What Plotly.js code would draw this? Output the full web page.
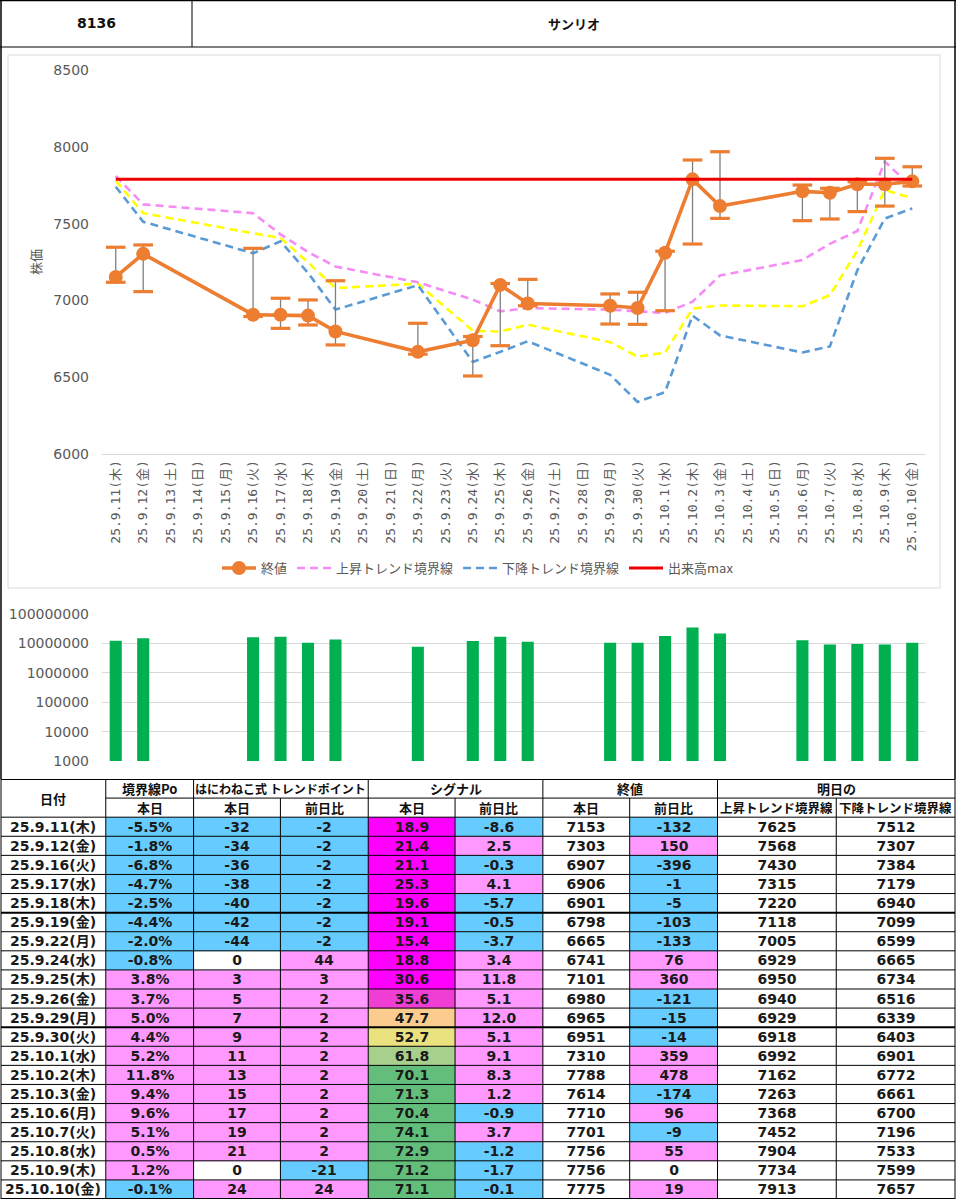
<!DOCTYPE html>
<html><head><meta charset="utf-8">
<script src="https://cdn.plot.ly/plotly-3.0.1.min.js"></script>
<style>html,body{margin:0;padding:0;background:#fff}#chart{width:956px;height:1199px}</style>
</head><body><div id="chart"></div>
<script>
// ---------- data ----------
const stockCode = '8136';
const stockName = 'サンリオ';

const axisDays = ['25.9.11(木)','25.9.12(金)','25.9.13(土)','25.9.14(日)','25.9.15(月)','25.9.16(火)','25.9.17(水)','25.9.18(木)','25.9.19(金)','25.9.20(土)','25.9.21(日)','25.9.22(月)','25.9.23(火)','25.9.24(水)','25.9.25(木)','25.9.26(金)','25.9.27(土)','25.9.28(日)','25.9.29(月)','25.9.30(火)','25.10.1(水)','25.10.2(木)','25.10.3(金)','25.10.4(土)','25.10.5(日)','25.10.6(月)','25.10.7(火)','25.10.8(水)','25.10.9(木)','25.10.10(金)'];

const tradeDays = ['25.9.11(木)','25.9.12(金)','25.9.16(火)','25.9.17(水)','25.9.18(木)','25.9.19(金)','25.9.22(月)','25.9.24(水)','25.9.25(木)','25.9.26(金)','25.9.29(月)','25.9.30(火)','25.10.1(水)','25.10.2(木)','25.10.3(金)','25.10.6(月)','25.10.7(火)','25.10.8(水)','25.10.9(木)','25.10.10(金)'];

const closeVals = [7153,7303,6907,6906,6901,6798,6665,6741,7101,6980,6965,6951,7310,7788,7614,7710,7701,7756,7756,7775];
const highVals  = [7346,7361,7339,7014,7003,7128,6851,6765,7110,7137,7042,7053,7320,7914,7968,7751,7730,7773,7925,7870];
const lowVals   = [7118,7057,6895,6818,6840,6710,6650,6508,6705,6965,6846,6844,6933,7367,7534,7519,7530,7578,7614,7745];
const upperLine = [7810,7625,7568,7430,7315,7220,7118,7005,6929,6950,6940,6929,6918,6992,7162,7263,7368,7452,7904,7734];
const lowerLine = [7740,7512,7307,7384,7179,6940,7099,6599,6665,6734,6516,6339,6403,6901,6772,6661,6700,7196,7533,7599];
const midLine   = [7779,7568,7437,7407,7247,7080,7109,6802,6797,6842,6728,6634,6660,6946,6967,6962,7034,7324,7718,7666];
const volMaxLine = [7788,7788,7788,7788,7788,7788,7788,7788,7788,7788,7788,7788,7788,7788,7788,7788,7788,7788,7788,7788];
const volumes = [12300000,15100000,16300000,16800000,10500000,13600000,7700000,12000000,16800000,11400000,10500000,10500000,17700000,34600000,21700000,12900000,9250000,9500000,9250000,10500000];
const volTickVals = [1000,10000,100000,1000000,10000000,100000000];
const volTickText = ['1000','10000','100000','1000000','10000000','100000000'];

// table
const poVals      = [-5.5,-1.8,-6.8,-4.7,-2.5,-4.4,-2.0,-0.8,3.8,3.7,5.0,4.4,5.2,11.8,9.4,9.6,5.1,0.5,1.2,-0.1];
const tpVals      = [-32,-34,-36,-38,-40,-42,-44,0,3,5,7,9,11,13,15,17,19,21,0,24];
const tpDiffVals  = [-2,-2,-2,-2,-2,-2,-2,44,3,2,2,2,2,2,2,2,2,2,-21,24];
const sigVals     = [18.9,21.4,21.1,25.3,19.6,19.1,15.4,18.8,30.6,35.6,47.7,52.7,61.8,70.1,71.3,70.4,74.1,72.9,71.2,71.1];
const sigDiffVals = [-8.6,2.5,-0.3,4.1,-5.7,-0.5,-3.7,3.4,11.8,5.1,12.0,5.1,9.1,8.3,1.2,-0.9,3.7,-1.2,-1.7,-0.1];
const closeDiffVals = [-132,150,-396,-1,-5,-103,-133,76,360,-121,-15,-14,359,478,-174,96,-9,55,0,19];
const upperNextVals = [7625,7568,7430,7315,7220,7118,7005,6929,6950,6940,6929,6918,6992,7162,7263,7368,7452,7904,7734,7913];
const lowerNextVals = [7512,7307,7384,7179,6940,7099,6599,6665,6734,6516,6339,6403,6901,6772,6661,6700,7196,7533,7599,7657];

const tableTopHeader = ['日付','境界線Po','はにわねこ式 トレンドポイント','シグナル','終値','明日の'];
const tableSubHeader = ['','本日','本日','前日比','本日','前日比','本日','前日比','上昇トレンド境界線','下降トレンド境界線'];
const legendNames = ['終値','上昇トレンド境界線','下降トレンド境界線','出来高max'];

// ---------- helpers / styling ----------
const W = 956, H = 1199;
const fx = p => p / W;
const fy = p => 1 - p / H;
const ORANGE = '#ED7D31';
const tickGray = '#595959';
// palette indices for table cells
const PALETTE = ['#FFFFFF','#66CCFF','#FF99FF','#FF00FF','#F03DD4','#FCCB8E','#EAE27E','#A8D08D','#63BE7B'];
const signIdx = v => v < 0 ? 1 : (v > 0 ? 2 : 0);
const sigIdx = v => v < 33 ? 3 : v < 40 ? 4 : v < 50 ? 5 : v < 57 ? 6 : v < 66 ? 7 : 8;
const colEdges = [0,105,193,280,368,455,543,630,718,837,956];   // column borders (px units of table axis)
const topSpans = [[0,1],[1,2],[2,4],[4,6],[6,8],[8,10]];          // header row 1 merged spans
const nRows = tradeDays.length;

// ---------- traces ----------
const traces = [];
traces.push({type:'scatter', x:tradeDays, y:midLine, mode:'lines', line:{color:'#FFFF00', width:2.6, dash:'8px,5px'}, showlegend:false, hoverinfo:'skip', xaxis:'x', yaxis:'y'});
traces.push({type:'scatter', x:tradeDays, y:upperLine, mode:'lines', name:legendNames[1], legendrank:2, line:{color:'#F58CF5', width:2.6, dash:'8px,5px'}, xaxis:'x', yaxis:'y'});
traces.push({type:'scatter', x:tradeDays, y:lowerLine, mode:'lines', name:legendNames[2], legendrank:3, line:{color:'#5B9BD5', width:2.6, dash:'8px,5px'}, xaxis:'x', yaxis:'y'});
traces.push({type:'scatter', x:tradeDays, y:closeVals, mode:'markers', marker:{size:1, opacity:0}, showlegend:false, hoverinfo:'skip',
  error_y:{type:'data', symmetric:false, array:highVals.map((h,i)=>h-closeVals[i]), arrayminus:lowVals.map((l,i)=>closeVals[i]-l), color:'#7F7F7F', thickness:1.3, width:0}, xaxis:'x', yaxis:'y'});
traces.push({type:'scatter', x:tradeDays, y:highVals, mode:'markers', marker:{symbol:'line-ew', size:14, line:{color:ORANGE, width:3.2}}, showlegend:false, hoverinfo:'skip', xaxis:'x', yaxis:'y'});
traces.push({type:'scatter', x:tradeDays, y:lowVals, mode:'markers', marker:{symbol:'line-ew', size:14, line:{color:ORANGE, width:3.2}}, showlegend:false, hoverinfo:'skip', xaxis:'x', yaxis:'y'});
traces.push({type:'scatter', x:tradeDays, y:closeVals, mode:'lines+markers', name:legendNames[0], legendrank:1, line:{color:ORANGE, width:3.6}, marker:{size:14, color:ORANGE}, xaxis:'x', yaxis:'y'});
traces.push({type:'scatter', x:tradeDays, y:volMaxLine, mode:'lines', name:legendNames[3], legendrank:4, line:{color:'#EE0000', width:3}, xaxis:'x', yaxis:'y'});

// volume bars
traces.push({type:'bar', x:tradeDays, y:volumes, marker:{color:'#00B050'}, width:0.44, showlegend:false, xaxis:'x2', yaxis:'y2'});

// table body as a heatmap on its own axes
const fmt1 = v => v.toFixed(1);
const colText = [
  tradeDays,
  poVals.map(v => v.toFixed(1) + '%'),
  tpVals.map(String),
  tpDiffVals.map(String),
  sigVals.map(fmt1),
  sigDiffVals.map(fmt1),
  closeVals.map(String),
  closeDiffVals.map(String),
  upperNextVals.map(String),
  lowerNextVals.map(String)
];
const colIdx = [
  tradeDays.map(()=>0),
  poVals.map(signIdx),
  tpVals.map(signIdx),
  tpDiffVals.map(signIdx),
  sigVals.map(sigIdx),
  sigDiffVals.map(signIdx),
  closeVals.map(()=>0),
  closeDiffVals.map(signIdx),
  upperNextVals.map(()=>0),
  lowerNextVals.map(()=>0)
];
const zRows = [], tRows = [];
for (let r = 0; r < nRows; r++) {
  zRows.push(colIdx.map(c => c[r]));
  tRows.push(colText.map(c => c[r]));
}
const rowEdges = Array.from({length:nRows+1}, (_, i) => i);
traces.push({type:'heatmap', x:colEdges, y:rowEdges, z:zRows, text:tRows, texttemplate:'%{text}',
  textfont:{family:'DejaVu Sans, Noto Sans CJK JP', size:14, color:'#1A1A1A', weight:'bold'},
  zmin:0, zmax:PALETTE.length-1, colorscale:PALETTE.map((c,i)=>[i/(PALETTE.length-1), c]), showscale:false,
  hoverinfo:'skip', xaxis:'x3', yaxis:'y3'});

// ---------- shapes & annotations ----------
const shapes = [
  {type:'rect', xref:'paper', yref:'paper', x0:fx(8), x1:fx(940), y0:fy(588), y1:fy(55), line:{color:'#D9D9D9', width:1}, layer:'below'},
  {type:'line', xref:'paper', yref:'paper', x0:fx(1), x1:fx(1), y0:fy(779), y1:fy(0), line:{color:'#000', width:1.5}},
  {type:'line', xref:'paper', yref:'paper', x0:fx(955), x1:fx(955), y0:fy(779), y1:fy(0), line:{color:'#000', width:1.5}},
  {type:'line', xref:'paper', yref:'paper', x0:fx(0), x1:fx(956), y0:fy(0.5), y1:fy(0.5), line:{color:'#000', width:1.5}},
  {type:'line', xref:'paper', yref:'paper', x0:fx(0), x1:fx(956), y0:fy(47), y1:fy(47), line:{color:'#000', width:1.2}},
  {type:'line', xref:'paper', yref:'paper', x0:fx(192), x1:fx(192), y0:fy(47), y1:fy(0), line:{color:'#000', width:1}}
];
const annotations = [
  {xref:'paper', yref:'paper', x:fx(96), y:fy(23.5), text:'<b>'+stockCode+'</b>', showarrow:false, xanchor:'center', yanchor:'middle', font:{family:'DejaVu Sans', size:14, color:'#111'}},
  {xref:'paper', yref:'paper', x:fx(574), y:fy(23.5), text:'<b>'+stockName+'</b>', showarrow:false, xanchor:'center', yanchor:'middle', font:{family:'Noto Sans CJK JP', size:13, color:'#111'}}
];
// table grid lines
const topBoundaries = new Set(topSpans.flatMap(s => s));
colEdges.forEach((e, k) => {
  shapes.push({type:'line', xref:'x3', yref:'y3', x0:e, x1:e, y0: topBoundaries.has(k) ? -2 : -1, y1:nRows, line:{color:'#000', width:1}});
});
for (let r = -2; r <= nRows; r++) {
  const thick = (r === -2 || r === 5 || r === 11 || r === nRows);
  shapes.push({type:'line', xref:'x3', yref:'y3', x0: r === -1 ? colEdges[1] : colEdges[0], x1:colEdges[colEdges.length-1], y0:r, y1:r, line:{color:'#000', width: thick ? 2 : 1}});
}
// header texts
topSpans.forEach((s, i) => {
  const isDate = i === 0;
  annotations.push({xref:'x3', yref:'y3', x:(colEdges[s[0]] + colEdges[s[1]]) / 2, y: isDate ? -1 : -1.5,
    text:'<b>'+tableTopHeader[i]+'</b>', showarrow:false, xanchor:'center', yanchor:'middle',
    font:{family:'Noto Sans CJK JP', size: tableTopHeader[i].length > 10 ? 12 : 13, color:'#111'}});
});
tableSubHeader.forEach((t, k) => {
  if (!t) return;
  annotations.push({xref:'x3', yref:'y3', x:(colEdges[k] + colEdges[k+1]) / 2, y:-0.5,
    text:'<b>'+t+'</b>', showarrow:false, xanchor:'center', yanchor:'middle',
    font:{family:'Noto Sans CJK JP', size: t.length > 6 ? 12.5 : 13, color:'#111'}});
});

// ---------- layout ----------
const layout = {
  width:W, height:H, margin:{l:0,r:0,t:0,b:0}, paper_bgcolor:'#FFFFFF', plot_bgcolor:'rgba(0,0,0,0)',
  showlegend:true,
  legend:{orientation:'h', x:0.5, xanchor:'center', y:fy(568), yanchor:'middle', font:{family:'Noto Sans CJK JP', size:13, color:tickGray}, traceorder:'normal', bgcolor:'rgba(0,0,0,0)', itemwidth:34},
  xaxis:{domain:[fx(102), fx(926)], type:'category', categoryorder:'array', categoryarray:axisDays, range:[-0.5, 29.5],
    tickangle:-90, tickfont:{family:'DejaVu Sans Mono, Noto Sans CJK JP', size:13, color:tickGray},
    showline:true, linecolor:'#D9D9D9', linewidth:1, showgrid:false, ticks:'', zeroline:false, fixedrange:true, anchor:'y'},
  yaxis:{domain:[fy(454), fy(70)], range:[6000,8500], dtick:500, tick0:6000, showgrid:false, zeroline:false, showline:false, ticks:'',
    tickfont:{family:'DejaVu Sans', size:14, color:tickGray}, ticklabelstandoff:12, anchor:'x',
    title:{text:'株価', font:{family:'Noto Sans CJK JP', size:13, color:tickGray}, standoff:8}},
  xaxis2:{domain:[fx(102), fx(926)], type:'category', categoryorder:'array', categoryarray:axisDays, range:[-0.5, 29.5],
    showticklabels:false, showline:false, showgrid:false, ticks:'', zeroline:false, anchor:'y2'},
  yaxis2:{domain:[fy(761), fy(614)], type:'log', range:[3,8], tickvals:volTickVals, ticktext:volTickText,
    showgrid:true, gridcolor:'#D9D9D9', gridwidth:1, zeroline:false, showline:false, ticks:'', anchor:'x2',
    tickfont:{family:'DejaVu Sans', size:14, color:tickGray}, ticklabelstandoff:12},
  xaxis3:{domain:[0,1], range:[-1, 957], showticklabels:false, showgrid:false, zeroline:false, showline:false, ticks:'', anchor:'y3', fixedrange:true},
  yaxis3:{domain:[0, fy(779)], range:[nRows, -2], showticklabels:false, showgrid:false, zeroline:false, showline:false, ticks:'', anchor:'x3', fixedrange:true},
  shapes:shapes,
  annotations:annotations
};

Plotly.newPlot('chart', traces, layout, {displayModeBar:false, staticPlot:true});
</script></body></html>
